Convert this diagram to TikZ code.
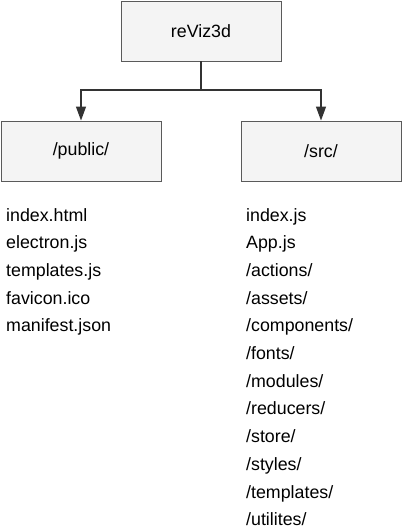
\documentclass[tikz,border=0pt]{standalone}
\usepackage{fontspec}
\setmainfont{Liberation Sans}
\usetikzlibrary{arrows.meta}
\tikzset{>={Triangle[length=14pt,width=10pt]}}
\definecolor{boxfill}{HTML}{F4F4F4}
\definecolor{boxline}{HTML}{5A5A5A}
\definecolor{wire}{HTML}{333333}
\tikzset{
    dirbox/.style={draw=boxline, fill=boxfill, line width=0.9pt,
        minimum width=160pt, minimum height=60pt, inner sep=0pt,
        font=\fontsize{17.8}{21}\selectfont},
    file/.style={anchor=base west, inner sep=0pt,
        font=\fontsize{17.8}{21}\selectfont},
    wire/.style={draw=wire, line width=1.3pt}
}

\begin{document}
\begin{tikzpicture}[x=1pt, y=-1pt]
    \useasboundingbox (0,0) rectangle (402,530);
    %folder boxes
    \node[dirbox] (root) at (201,31) {reViz3d};
    \node[dirbox] (public) at (81,151) {/public/};
    \node[dirbox] (src) at (321,151) {/src/};
    %connectors
    \coordinate (split) at (201,90);
    \draw[wire] (root.south) -- (split);
    \draw[wire,->] (split) -| (public.north);
    \draw[wire,->] (split) -| (src.north);
    %file lists
    \foreach [count=\i] \f in {index.html, electron.js, templates.js,
        favicon.ico, manifest.json}
    {\node[file] (pub\i) at (6,{221+(\i-1)*27.7}) {\f};}
    \foreach [count=\i] \f in {index.js, App.js, /actions/, /assets/,
        /components/, /fonts/, /modules/, /reducers/, /store/, /styles/,
        /templates/, /utilites/}
    {\node[file] (src\i) at (246,{221+(\i-1)*27.7}) {\f};}
\end{tikzpicture}
\end{document}
